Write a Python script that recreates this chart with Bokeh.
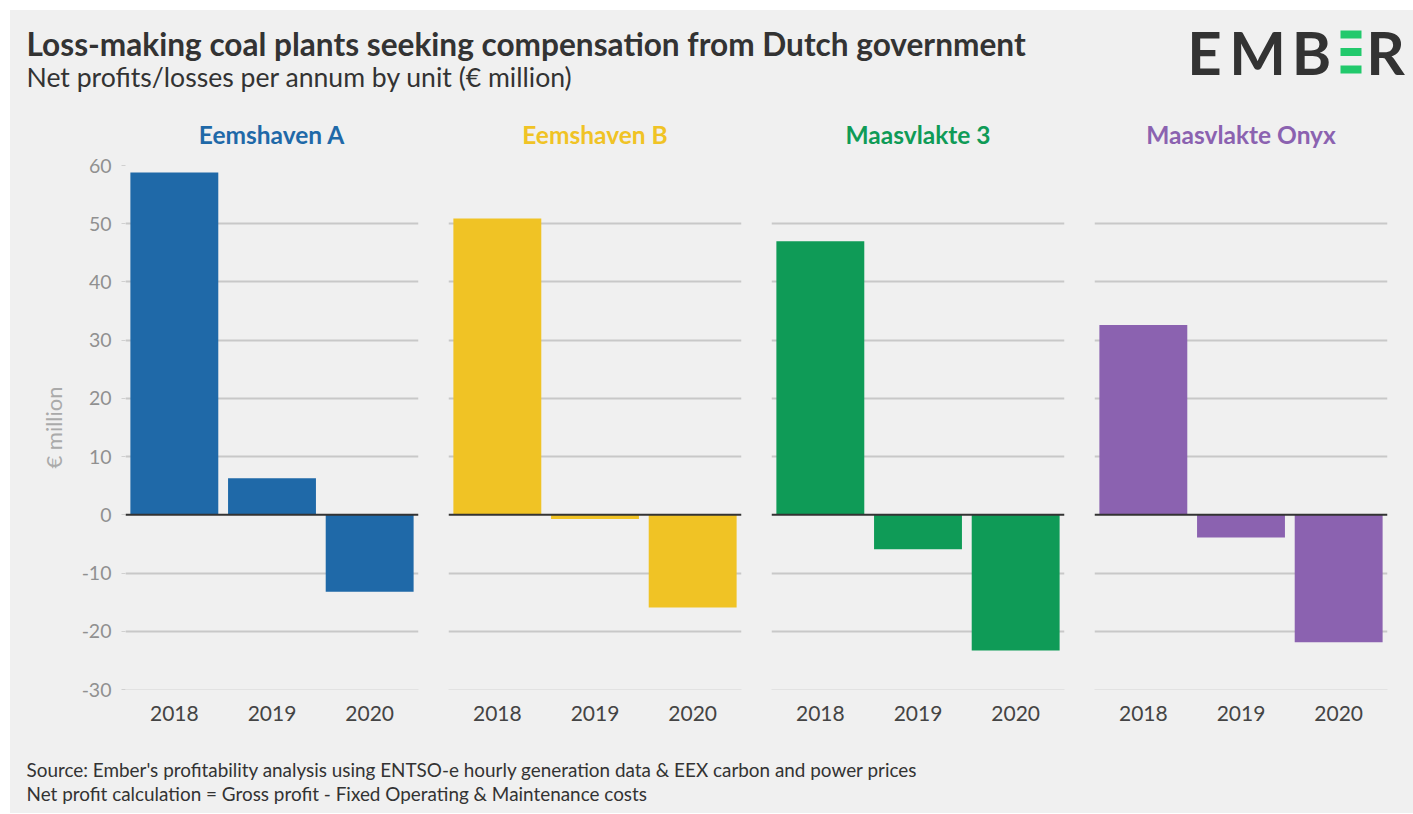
from bokeh.plotting import figure
from bokeh.models import Range1d, FactorRange, Span, FixedTicker, ColumnDataSource
from bokeh.layouts import column, row
from bokeh.embed import file_html
from bokeh.resources import INLINE
from bokeh.core.properties import value

# ---------------- data ----------------
units = ["Eemshaven A", "Eemshaven B", "Maasvlakte 3", "Maasvlakte Onyx"]
years = ["2018", "2019", "2020"]
eemshaven_a = [58.8, 6.3, -13.2]
eemshaven_b = [50.9, -0.7, -15.9]
maasvlakte_3 = [47.0, -5.9, -23.3]
maasvlakte_onyx = [32.6, -3.9, -21.9]
unit_values = [eemshaven_a, eemshaven_b, maasvlakte_3, maasvlakte_onyx]
unit_colors = ["#1f69a8", "#f0c325", "#0f9b57", "#8b62b0"]
y_ticks = [-30, -20, -10, 0, 10, 20, 30, 40, 50, 60]
y_tick_labels = ["-30", "-20", "-10", "0", "10", "20", "30", "40", "50", "60"]
grid_ticks = [-20, -10, 10, 20, 30, 40, 50, 60]

title_text = "Loss-making coal plants seeking compensation from Dutch government"
subtitle_text = "Net profits/losses per annum by unit (\u20ac million)"
source_text = "Source: Ember's profitability analysis using ENTSO-e hourly generation data & EEX carbon and power prices"
note_text = "Net profit calculation = Gross profit - Fixed Operating & Maintenance costs"

BG = "#f0f0f0"
FONT = "Lato"
TOTAL_W = 1403
HEADER_H = 86
PANEL_H = 644
FOOTER_H = 73


def blank_fig(w, h):
    f = figure(width=w, height=h, x_range=Range1d(0, w), y_range=Range1d(h, 0),
               output_backend="svg", toolbar_location=None,
               min_border=0, min_border_left=0, min_border_right=0,
               min_border_top=0, min_border_bottom=0)
    f.axis.visible = False
    f.grid.visible = False
    f.outline_line_color = None
    f.background_fill_color = BG
    f.border_fill_color = BG
    return f


# ---------------- header ----------------
header = blank_fig(TOTAL_W, HEADER_H)
header.text(x=[16], y=[33], text=[title_text], text_font=value(FONT),
            text_font_style="bold", text_font_size="31.6px", text_color="#333333",
            text_baseline="alphabetic", text_align="left")
header.text(x=[16], y=[66.5], text=[subtitle_text], text_font=value(FONT),
            text_font_size="26.6px", text_color="#333333",
            text_baseline="alphabetic", text_align="left")
# EMBER logo
logo_letters = ["E", "M", "B", "R"]
logo_x = [1194, 1247, 1301, 1375]
header.text(x=logo_x, y=[41.5] * 4, text=logo_letters, text_font=value(FONT),
            text_font_style="bold", text_font_size="60px", text_color="#333333",
            text_baseline="alphabetic", text_align="center")
header.quad(left=[1330, 1330, 1330], right=[1351, 1351, 1351],
            top=[20, 37.5, 55], bottom=[28, 45.5, 63], color="#22c96c", line_color=None)

# ---------------- panels ----------------
panels = []
borders = [(115, 15), (15, 15), (15, 15), (15, 26)]
for i, (unit, vals, col) in enumerate(zip(units, unit_values, unit_colors)):
    bl, br = borders[i]
    w = bl + 293 + br
    p = figure(width=w, height=PANEL_H, x_range=FactorRange(*years),
               y_range=Range1d(-30, 60), output_backend="svg",
               toolbar_location=None, min_border_left=bl, min_border_right=br,
               min_border_top=69, min_border_bottom=51, title=unit)
    p.background_fill_color = BG
    p.border_fill_color = BG
    p.outline_line_color = None
    src = ColumnDataSource(dict(x=years, top=vals))
    p.vbar(x="x", top="top", bottom=0, width=0.9, source=src, fill_color=col,
           line_color=None)
    p.add_layout(Span(location=0, dimension="width", line_color="#333333",
                      line_width=2))
    p.title.align = "center"
    p.title.text_color = col
    p.title.text_font = FONT
    p.title.text_font_style = "bold"
    p.title.text_font_size = "24.5px"
    p.title.standoff = 34
    p.xgrid.visible = False
    p.ygrid.ticker = FixedTicker(ticks=grid_ticks)
    p.ygrid.grid_line_color = "#c8c8c8"
    p.ygrid.grid_line_width = 2
    p.xaxis.axis_line_color = "#e2e2e2"
    p.xaxis.major_tick_line_color = None
    p.xaxis.minor_tick_line_color = None
    p.xaxis.major_label_text_font = FONT
    p.xaxis.major_label_text_font_size = "21px"
    p.xaxis.major_label_text_color = "#444444"
    p.xaxis.major_label_standoff = 10
    p.yaxis.ticker = FixedTicker(ticks=y_ticks)
    p.yaxis.major_label_overrides = {t: s for t, s in zip(y_ticks, y_tick_labels)}
    p.yaxis.axis_line_color = None
    p.yaxis.major_tick_line_color = "#d0d0d0"
    p.yaxis.major_tick_out = 4
    p.yaxis.major_tick_in = 0
    p.yaxis.minor_tick_line_color = None
    p.yaxis.major_label_text_font = FONT
    p.yaxis.major_label_text_font_size = "19.5px"
    p.yaxis.major_label_text_color = "#909090"
    p.yaxis.major_label_standoff = 10
    if i == 0:
        p.yaxis.axis_label = "\u20ac million"
        p.yaxis.axis_label_text_font = FONT
        p.yaxis.axis_label_text_font_style = "normal"
        p.yaxis.axis_label_text_font_size = "22px"
        p.yaxis.axis_label_text_color = "#aaaaaa"
        p.yaxis.axis_label_standoff = 12
    else:
        p.yaxis.visible = False
    panels.append(p)

# ---------------- footer ----------------
footer = blank_fig(TOTAL_W, FOOTER_H)
footer.text(x=[16], y=[28.5], text=[source_text], text_font=value(FONT),
            text_font_size="18.9px", text_color="#333333",
            text_baseline="alphabetic", text_align="left")
footer.text(x=[16], y=[52.5], text=[note_text], text_font=value(FONT),
            text_font_size="18.9px", text_color="#333333",
            text_baseline="alphabetic", text_align="left")

panel_row = row(*panels, spacing=0, styles={"background-color": BG})
layout = column(header, panel_row, footer, spacing=0, margin=(10, 0, 0, 10),
                styles={"background-color": BG})
open("out.html", "w").write(file_html(layout, INLINE))
